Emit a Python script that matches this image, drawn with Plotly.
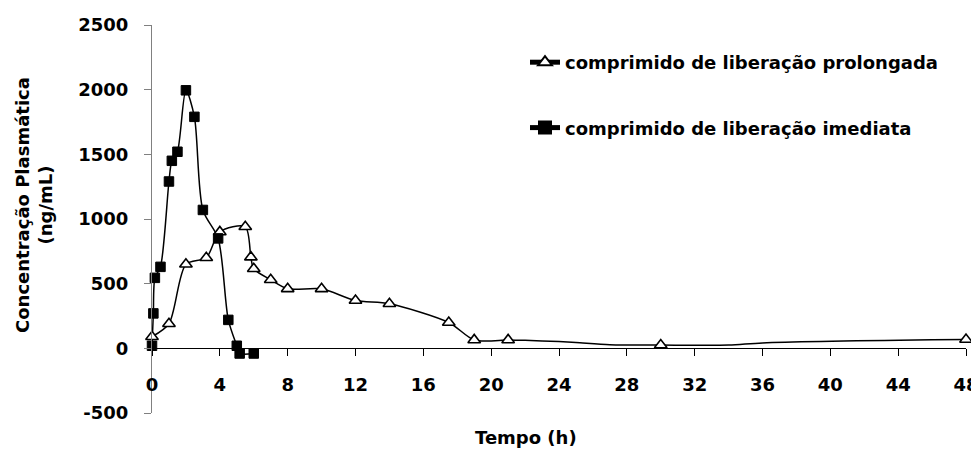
import plotly.graph_objects as go

# ---- data ----
hours_ir = [0, 0.08, 0.17, 0.5, 1, 1.17, 1.5, 2, 2.5, 3, 3.9, 4.5, 5, 5.17, 6]
conc_ir = [20, 270, 545, 630, 1290, 1450, 1520, 1995, 1790, 1070, 850, 220, 20, -40, -40]

hours_pr = [0, 1, 2, 3.2, 4, 5.5, 5.83, 6, 7, 8, 10, 12, 14, 17.5, 19, 21, 30, 48]
conc_pr = [90, 190, 650, 700, 900, 940, 705, 615, 530, 460, 460, 370, 345, 200, 65, 65, 25, 68]

# curve of the prolonged-release series (marked points plus unmarked line points)
hours_pr_curve = [0, 1, 2, 3.2, 4, 5.5, 5.83, 6, 7, 8, 10, 12, 14, 17.5, 19, 21,
                  22, 24, 25, 27, 30, 34, 36, 46, 48]
conc_pr_curve = [90, 190, 650, 700, 900, 940, 705, 615, 530, 460, 460, 370, 345, 200, 65, 65,
                 62, 52, 45, 28, 25, 25, 42, 66, 68]

x_ticks = list(range(0, 49, 4))
y_ticks = [-500, 0, 500, 1000, 1500, 2000, 2500]

name_pr = "comprimido de liberação prolongada"
name_ir = "comprimido de liberação imediata"
x_title = "Tempo (h)"
y_title = "Concentração Plasmática<br>(ng/mL)"

# ---- layout geometry (pixels) ----
OFF = 8  # page body margin in the browser
W, H = 979 - OFF, 451 - OFF
L = 152 - OFF
T = 25 - OFF
R = W - (966 - OFF)
B = H - (413 - OFF)
PW, PH = W - L - R, H - T - B


def px2x(px):
    """reference page pixel -> paper x"""
    return (px - OFF - L) / PW


def py2y(py):
    """reference page pixel -> paper y"""
    return (H - B - (py - OFF)) / PH


FONT = "DejaVu Sans"
fs = 18

fig = go.Figure()

line_style = dict(color="black", width=1.5, shape="spline", smoothing=0.8)
tri_marker = dict(symbol="triangle-up", size=11, color="white",
                  line=dict(color="black", width=1.6))
sq_marker = dict(symbol="square", size=9.5, color="black",
                 line=dict(color="black", width=1))

fig.add_trace(go.Scatter(x=hours_ir, y=conc_ir, mode="lines", line=line_style,
                         showlegend=False, hoverinfo="skip"))
fig.add_trace(go.Scatter(x=hours_pr_curve, y=conc_pr_curve, mode="lines", line=line_style,
                         showlegend=False, hoverinfo="skip"))
fig.add_trace(go.Scatter(x=hours_pr, y=conc_pr, mode="markers", marker=tri_marker,
                         showlegend=False, cliponaxis=False))
fig.add_trace(go.Scatter(x=hours_ir, y=conc_ir, mode="markers", marker=sq_marker,
                         showlegend=False, cliponaxis=False))

# legend entries
fig.add_trace(go.Scatter(x=[None], y=[None], mode="lines+markers", name=name_pr,
                         line=dict(color="black", width=1.5), marker=tri_marker,
                         legendgroup="pr"))
fig.add_trace(go.Scatter(x=[None], y=[None], mode="lines+markers", name=name_ir,
                         line=dict(color="black", width=1.5), marker=sq_marker,
                         legendgroup="ir"))

fig.update_layout(
    width=W, height=H,
    margin=dict(l=L, r=R, t=T, b=B, autoexpand=False),
    paper_bgcolor="white", plot_bgcolor="white",
    font=dict(family=FONT, size=fs, color="black", weight="bold"),
    showlegend=True,
    legend=dict(x=px2x(525), y=py2y(44), xanchor="left", yanchor="top",
                bgcolor="rgba(0,0,0,0)", tracegroupgap=39,
                font=dict(family=FONT, size=fs, color="black", weight="bold"),
                itemsizing="constant"),
    xaxis=dict(range=[0, 48], tickvals=x_ticks, ticktext=[str(v) for v in x_ticks],
               anchor="free", position=1 / 6,
               showline=True, linecolor="black", linewidth=1,
               ticks="outside", ticklen=7, tickcolor="black", tickwidth=1,
               ticklabelstandoff=13,
               showgrid=False, zeroline=False,
               tickfont=dict(family=FONT, size=fs, color="black", weight="bold")),
    yaxis=dict(range=[-500, 2500], tickvals=y_ticks, ticktext=[str(v) for v in y_ticks],
               showline=True, linecolor="#808080", linewidth=1,
               ticks="outside", ticklen=7, tickcolor="#808080", tickwidth=1,
               ticklabelstandoff=12,
               showgrid=False, zeroline=False,
               tickfont=dict(family=FONT, size=fs, color="black", weight="bold")),
    annotations=[
        dict(text=x_title, xref="paper", yref="paper", x=px2x(526), y=py2y(437),
             xanchor="center", yanchor="middle", showarrow=False,
             font=dict(family=FONT, size=fs, color="black", weight="bold")),
        dict(text=y_title, xref="paper", yref="paper", x=px2x(34), y=py2y(205),
             xanchor="center", yanchor="middle", showarrow=False, textangle=-90,
             font=dict(family=FONT, size=fs, color="black", weight="bold")),
    ],
)

fig.write_html("out.html")
